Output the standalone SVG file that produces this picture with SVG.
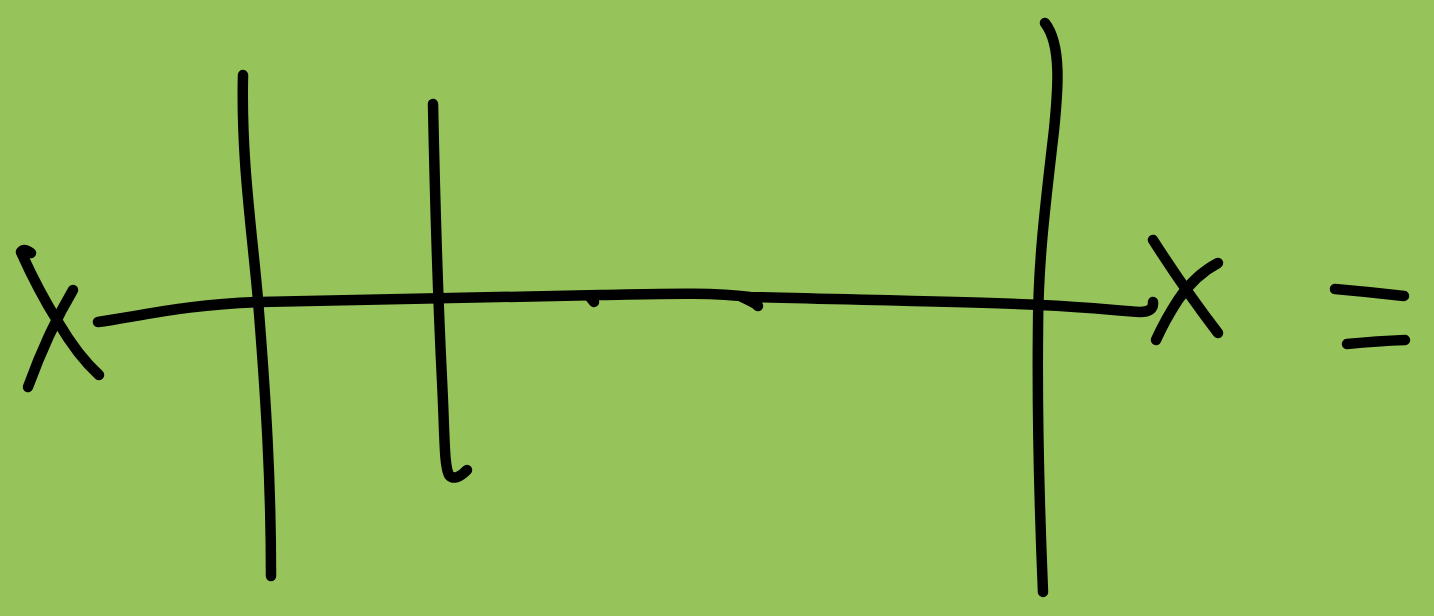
<svg xmlns="http://www.w3.org/2000/svg" width="1434" height="616" viewBox="0 0 1434 616">
  <style>
    .pen { fill: none; stroke: #000; stroke-width: 10.5; stroke-linecap: round; stroke-linejoin: round; }
  </style>
  <rect x="0" y="0" width="1434" height="616" fill="#96c45a"/>
  <g id="left-cross">
    <path class="pen" d="M31,253 Q24,248 21,252 Q38,290 58,322 Q78,356 99,375"/>
    <path class="pen" d="M73,290 Q48,332 28,387"/>
  </g>
  <g id="vertical-lines">
    <path class="pen" d="M243,75 C241,160 252,230 258,300 C266,400 271,480 271,576"/>
    <path class="pen" d="M433,104 C435,200 438,300 442,380 C445,440 444,465 449,475 Q455,482 467,470"/>
    <path class="pen" d="M1045,23 C1062,45 1058,90 1054,130 C1046,200 1038,260 1038,330 C1037,420 1040,520 1043,592"/>
  </g>
  <g id="connectors">
    <path class="pen" d="M98,322 C140,316 190,304 260,302 C400,299 520,296 600,295 C660,294 710,292 750,297 C860,300 980,302 1040,305 C1090,307 1120,311 1140,312 Q1154,312 1153,302"/>
    <path class="pen" d="M590,297 L594,302"/>
    <path class="pen" d="M742,297 Q755,303 758,306"/>
  </g>
  <g id="right-cross">
    <path class="pen" d="M1153,240 Q1185,290 1218,333"/>
    <path class="pen" d="M1218,263 Q1195,275 1178,300 Q1165,320 1156,340"/>
  </g>
  <g id="equals">
    <path class="pen" d="M1335,289 Q1370,292 1404,296"/>
    <path class="pen" d="M1347,344 Q1378,341 1405,340"/>
  </g>
</svg>
